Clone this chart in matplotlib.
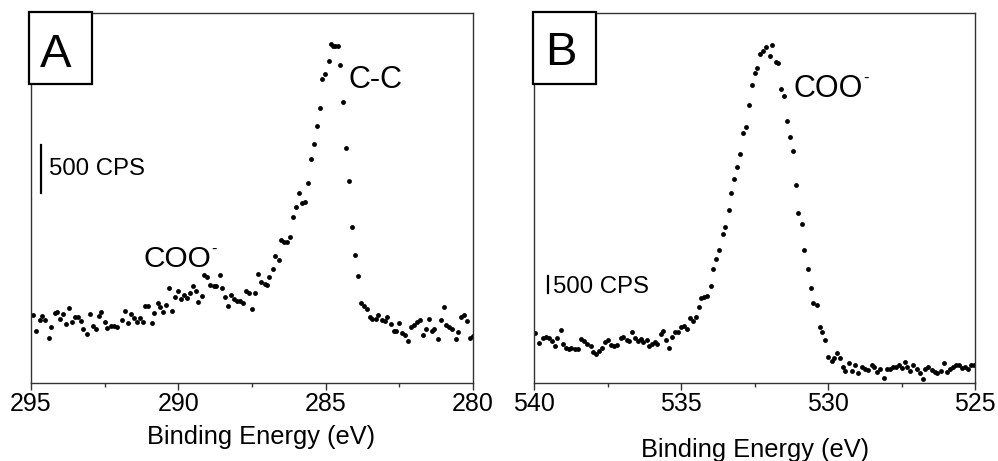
import numpy as np
import matplotlib
matplotlib.use("Agg")
import matplotlib.pyplot as plt
from matplotlib.patches import Rectangle

plt.rcParams['font.family'] = ['Liberation Sans', 'DejaVu Sans']

# C 1s (painel A) - energia de ligacao (eV) e contagens (CPS)
be_a = [294.94, 294.82, 294.70, 294.63, 294.51, 294.40, 294.31, 294.20, 294.11, 294.02,
        293.90, 293.80, 293.72, 293.62, 293.50, 293.41, 293.31, 293.23, 293.11, 293.01,
        292.91, 292.79, 292.70, 292.61, 292.50, 292.41, 292.30, 292.18, 292.07, 291.91,
        291.81, 291.71, 291.62, 291.50, 291.41, 291.30, 291.21, 291.12, 291.04, 290.90,
        290.82, 290.70, 290.61, 290.51, 290.41, 290.32, 290.21, 290.11, 290.00, 289.91,
        289.82, 289.71, 289.61, 289.51, 289.41, 289.32, 289.21, 289.12, 289.03, 288.92,
        288.80, 288.71, 288.60, 288.51, 288.42, 288.32, 288.21, 288.12, 288.01, 287.91,
        287.81, 287.70, 287.60, 287.51, 287.40, 287.31, 287.20, 287.07, 287.00, 286.91,
        286.80, 286.71, 286.59, 286.53, 286.42, 286.32, 286.21, 286.11, 286.01, 285.90,
        285.80, 285.71, 285.60, 285.50, 285.41, 285.31, 285.20, 285.12, 285.01, 284.90,
        284.82, 284.75, 284.67, 284.59, 284.51, 284.41, 284.31, 284.21, 284.11, 284.01,
        283.90, 283.81, 283.71, 283.60, 283.51, 283.42, 283.30, 283.21, 283.10, 282.99,
        282.92, 282.78, 282.69, 282.60, 282.51, 282.40, 282.31, 282.20, 282.11, 282.01,
        281.90, 281.81, 281.70, 281.61, 281.49, 281.40, 281.32, 281.20, 281.09, 281.00,
        280.91, 280.82, 280.70, 280.59, 280.50, 280.41, 280.30, 280.21, 280.09, 280.00]
cps_a = [708, 542, 653, 698, 653, 472, 587, 726, 737, 667,
         716, 615, 778, 632, 688, 688, 646, 563, 514, 716,
         597, 563, 695, 737, 632, 576, 591, 591, 587, 656,
         750, 622, 716, 680, 639, 680, 639, 805, 802, 628,
         733, 830, 789, 740, 813, 987, 747, 893, 962, 872,
         917, 883, 935, 1011, 962, 847, 910, 1125, 1108, 1018,
         1011, 1011, 1128, 990, 899, 802, 917, 878, 858, 851,
         837, 955, 935, 768, 941, 1133, 1056, 1032, 1018, 1101,
         1191, 1323, 1282, 1490, 1469, 1469, 1518, 1733, 1837, 1977,
         1872, 1889, 2087, 2337, 2490, 2675, 2869, 3171, 3223, 3355,
         3532, 3512, 3512, 3515, 3314, 2931, 2446, 2108, 1629, 1331,
         1115, 837, 805, 774, 691, 670, 664, 712, 656, 649,
         685, 612, 545, 545, 628, 524, 503, 441, 580, 607,
         636, 656, 503, 560, 670, 539, 560, 458, 656, 789,
         607, 587, 560, 458, 528, 685, 705, 649, 466, 490]

# O 1s (painel B)
be_b = [539.97, 539.83, 539.71, 539.60, 539.51, 539.40, 539.31, 539.22, 539.10, 539.01,
        538.92, 538.83, 538.74, 538.63, 538.51, 538.40, 538.31, 538.20, 538.08, 537.99,
        537.90, 537.81, 537.70, 537.59, 537.49, 537.38, 537.29, 537.18, 537.06, 536.97,
        536.86, 536.77, 536.68, 536.56, 536.47, 536.38, 536.29, 536.18, 536.09, 536.00,
        535.88, 535.82, 535.70, 535.61, 535.52, 535.43, 535.32, 535.22, 535.11, 535.00,
        534.91, 534.82, 534.70, 534.61, 534.50, 534.41, 534.32, 534.23, 534.12, 534.00,
        533.91, 533.82, 533.71, 533.59, 533.50, 533.39, 533.30, 533.21, 533.10, 533.00,
        532.91, 532.80, 532.71, 532.60, 532.50, 532.41, 532.32, 532.22, 532.11, 531.99,
        531.90, 531.79, 531.70, 531.61, 531.50, 531.41, 531.31, 531.20, 531.11, 531.02,
        530.90, 530.82, 530.70, 530.59, 530.50, 530.39, 530.29, 530.20, 530.09, 530.00,
        529.88, 529.80, 529.70, 529.61, 529.50, 529.41, 529.30, 529.20, 529.09, 528.98,
        528.84, 528.75, 528.64, 528.52, 528.44, 528.34, 528.23, 528.10, 528.00, 527.91,
        527.80, 527.69, 527.60, 527.48, 527.39, 527.30, 527.21, 527.10, 526.98, 526.89,
        526.78, 526.69, 526.60, 526.48, 526.37, 526.28, 526.17, 526.07, 525.96, 525.85,
        525.76, 525.65, 525.53, 525.44, 525.35, 525.24, 525.15, 525.03]
cps_b = [1491, 1191, 1359, 1389, 1341, 1260, 1119, 1341, 1590, 1170,
         1059, 1011, 1059, 1020, 1020, 1320, 1260, 1161, 1119, 939,
         870, 960, 1059, 1221, 1281, 1140, 1119, 1140, 1341, 1380,
         1290, 1260, 1521, 1341, 1260, 1320, 1239, 1281, 1101, 1179,
         1221, 1170, 1470, 1569, 1290, 1050, 1371, 1530, 1530, 1689,
         1710, 1611, 1950, 1869, 1971, 2271, 2550, 2571, 2610, 2910,
         3411, 3711, 3990, 4470, 4689, 5190, 5709, 6129, 6480, 6870,
         7491, 7671, 8340, 8940, 9291, 9441, 9861, 9969, 10071, 9810,
         10149, 9639, 9609, 8811, 8610, 7869, 7389, 6951, 5931, 5100,
         4779, 3981, 3411, 2859, 2409, 2331, 1689, 1539, 1290, 789,
         669, 741, 891, 741, 489, 369, 591, 369, 540, 309,
         471, 429, 390, 531, 489, 330, 411, 150, 411, 429,
         471, 471, 531, 450, 630, 489, 369, 549, 411, 309,
         111, 411, 471, 390, 330, 309, 351, 609, 330, 429,
         489, 549, 531, 450, 489, 429, 531, 549]

ticks_a = [295, 290, 285, 280]
ticks_b = [540, 535, 530, 525]
barra = 500  # CPS


def rotular(ax, x, y, texto, tam):
    t = ax.text(x, y, texto, fontsize=tam, ha='left', va='baseline')
    ax.annotate('-', xy=(1, 1), xycoords=t, xytext=(0.5, -3),
                textcoords='offset points', fontsize=12, ha='left', va='center')


def painel(ax, be, cps, ticks, topo, letra, pos_letra, caixa, escala, pos_xlabel):
    ax.plot(be, cps, 'o', color='black', markersize=3.5, markeredgewidth=0)
    ax.set_xlim(ticks[0], ticks[-1])
    ax.set_ylim(0, topo)
    ax.set_xticks(ticks)
    ax.set_xticks([(a + b) / 2 for a, b in zip(ticks[:-1], ticks[1:])], minor=True)
    ax.set_yticks([])
    ax.tick_params(axis='x', which='major', direction='out', length=5, width=1,
                   labelsize=18, pad=1.5, color='#333333')
    ax.tick_params(axis='x', which='minor', direction='out', length=3, width=1,
                   color='#333333')
    for s in ax.spines.values():
        s.set_linewidth(1.0)
        s.set_color('#333333')

    ax.set_xlabel("Binding Energy (eV)", fontsize=18.3)
    ax.xaxis.set_label_coords(*pos_xlabel)

    ax.add_patch(Rectangle(caixa[0], caixa[1], caixa[2], transform=ax.transAxes,
                           facecolor='white', edgecolor='black', linewidth=1.6,
                           clip_on=False, zorder=5))
    ax.text(pos_letra[0], pos_letra[1], letra, transform=ax.transAxes,
            fontsize=34, ha='center', va='baseline', zorder=6)

    xb, yb, xt, yt = escala
    ax.plot([xb, xb], [yb, yb + barra], color='black', linewidth=1.6)
    ax.text(xt, yt, "500 CPS", fontsize=17.3, ha='left', va='baseline')


fig = plt.figure(figsize=(9.98, 4.61), dpi=100)
ax_a = fig.add_axes([0.0311, 0.1692, 0.4429, 0.8026])
ax_b = fig.add_axes([0.5354, 0.1692, 0.4416, 0.8026])

painel(ax_a, be_a, cps_a, ticks_a, 3854, "A", (0.0566, 0.854),
       ((-0.0045, 0.808), 0.1425, 0.194), (294.66, 1980, 294.39, 2167), (0.52, -0.113))
ax_a.text(284.24, 3074, "C-C", fontsize=22, ha='left', va='baseline')
rotular(ax_a, 291.20, 1209, "COO", 21.5)

painel(ax_b, be_b, cps_b, ticks_b, 11100, "B", (0.0605, 0.859),
       ((-0.004, 0.808), 0.145, 0.194), (539.53, 2700, 539.37, 2700), (0.5, -0.149))
rotular(ax_b, 531.19, 8580, "COO", 22)

fig.savefig("out.png", dpi=100)
